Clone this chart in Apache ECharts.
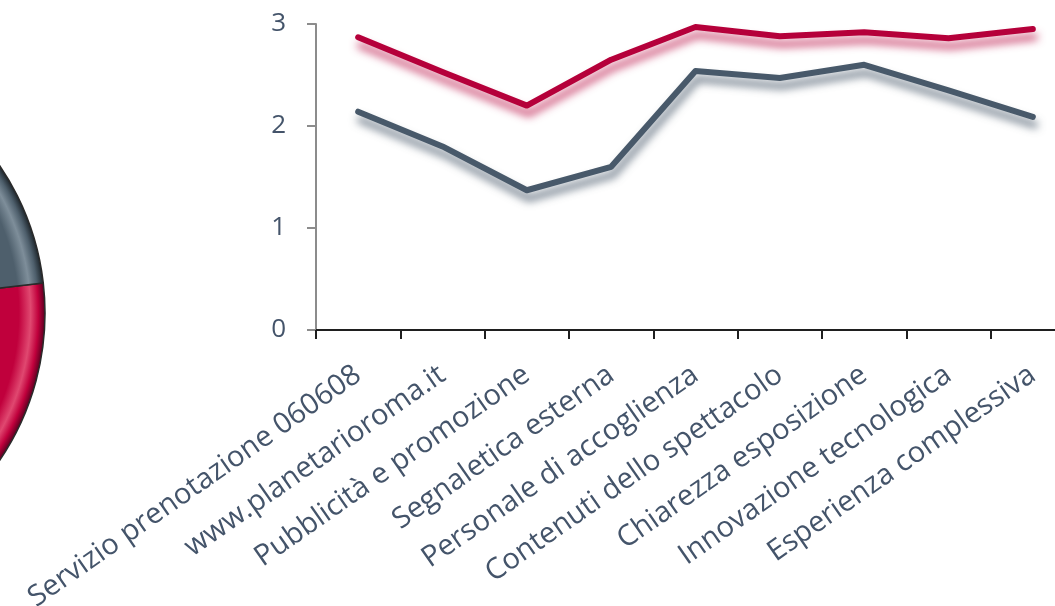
<!DOCTYPE html>
<html>
<head>
<meta charset="utf-8">
<style>
  html, body { margin: 0; padding: 0; background: #ffffff; }
  #chart { width: 1055px; height: 606px; }
</style>
<script src="https://cdn.jsdelivr.net/npm/echarts@6/dist/echarts.min.js"></script>
</head>
<body>
<div id="chart"></div>
<script>
// Survey aspects (x categories)
const categories = [
  'Servizio prenotazione 060608',
  'www.planetarioroma.it',
  'Pubblicità e promozione',
  'Segnaletica esterna',
  'Personale di accoglienza',
  'Contenuti dello spettacolo',
  'Chiarezza esposizione',
  'Innovazione tecnologica',
  'Esperienza complessiva'
];

// Average ratings, two groups
const seriesRed  = [2.87, 2.53, 2.20, 2.65, 2.97, 2.88, 2.92, 2.86, 2.95];
const seriesGray = [2.14, 1.80, 1.37, 1.60, 2.54, 2.47, 2.60, 2.35, 2.09];

// Y axis ticks
const yTicks = [0, 1, 2, 3];

// Share split for the side pie
const pieValues = [52, 48];

const RED = '#B5003A';
const GRAY = '#48596A';
const TEXT = '#44546A';

const pieCX = -217, pieCY = 313, pieR = 262;

function pieFill(base, light, dark) {
  return {
    type: 'radial', x: pieCX, y: pieCY, r: pieR, global: true,
    colorStops: [
      { offset: 0, color: base },
      { offset: 0.9, color: base },
      { offset: 0.945, color: light },
      { offset: 0.975, color: base },
      { offset: 1, color: dark }
    ]
  };
}

const chart = echarts.init(document.getElementById('chart'), null, { renderer: 'canvas' });

chart.setOption({
  animation: false,
  backgroundColor: '#ffffff',
  textStyle: { fontFamily: 'Open Sans' },
  grid: {
    left: 316, top: 24, width: 759, height: 306,
    containLabel: false, outerBoundsMode: 'none'
  },
  xAxis: {
    type: 'category',
    data: categories,
    boundaryGap: true,
    axisLine: { show: true, lineStyle: { color: '#1f1f1f', width: 2 } },
    axisTick: { show: true, length: 9, lineStyle: { color: '#1f1f1f', width: 2 } },
    axisLabel: {
      rotate: 35,
      margin: 42,
      interval: 0,
      color: TEXT,
      fontSize: 29,
      fontFamily: 'Open Sans'
    },
    splitLine: { show: false }
  },
  yAxis: {
    type: 'value',
    min: yTicks[0],
    max: yTicks[yTicks.length - 1],
    interval: 1,
    axisLine: { show: true, lineStyle: { color: '#8c8c8c', width: 2 } },
    axisTick: { show: true, length: 9, lineStyle: { color: '#8c8c8c', width: 2 } },
    axisLabel: { margin: 30, color: TEXT, fontSize: 26, fontFamily: 'Open Sans' },
    splitLine: { show: false }
  },
  series: [
    {
      type: 'pie',
      center: [pieCX, pieCY],
      radius: pieR,
      startAngle: 6.6,
      clockwise: true,
      silent: true,
      label: { show: false },
      labelLine: { show: false },
      itemStyle: { borderColor: '#2a2a2a', borderWidth: 1.5 },
      data: [
        { name: 'Rosso', value: pieValues[0], itemStyle: { color: pieFill('#C0003C', '#E04870', '#5a0020') } },
        { name: 'Grigio', value: pieValues[1], itemStyle: { color: pieFill('#4E5F6C', '#7E8E9A', '#1e262c') } }
      ]
    },
    {
      type: 'line',
      data: seriesGray,
      showSymbol: false,
      symbol: 'none',
      z: 3,
      lineStyle: {
        color: GRAY, width: 6, cap: 'round', join: 'round',
        shadowColor: 'rgba(72,89,106,0.8)', shadowBlur: 9, shadowOffsetX: 2, shadowOffsetY: 8
      }
    },
    {
      type: 'line',
      data: seriesRed,
      showSymbol: false,
      symbol: 'none',
      z: 4,
      lineStyle: {
        color: RED, width: 6, cap: 'round', join: 'round',
        shadowColor: 'rgba(190,30,80,0.8)', shadowBlur: 9, shadowOffsetX: 2, shadowOffsetY: 8
      }
    }
  ]
});
</script>
</body>
</html>
